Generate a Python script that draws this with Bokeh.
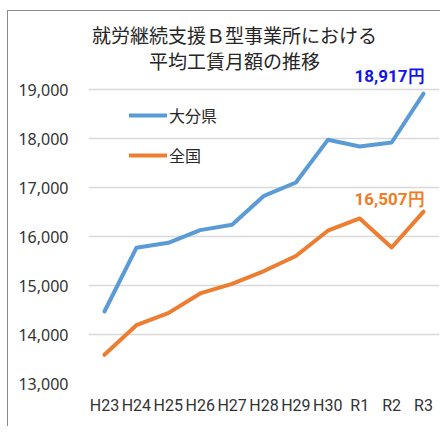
from bokeh.plotting import figure
from bokeh.models import Range1d, FixedTicker, NumeralTickFormatter, Label, Legend, LegendItem
from bokeh.core.properties import value
from bokeh.embed import file_html
from bokeh.resources import INLINE

# ---- data ----
years = ["H23", "H24", "H25", "H26", "H27", "H28", "H29", "H30", "R1", "R2", "R3"]
oita = [14469, 15769, 15871, 16130, 16239, 16831, 17102, 17973, 17837, 17918, 18917]
national = [13586, 14190, 14437, 14838, 15033, 15295, 15603, 16118, 16369, 15776, 16507]
y_ticks = [13000, 14000, 15000, 16000, 17000, 18000, 19000]
series_names = ["大分県", "全国"]
title_lines = ["就労継続支援Ｂ型事業所における", "平均工賃月額の推移"]

BLUE = "#5B9BD5"
ORANGE = "#ED7D31"
JP = "Noto Sans CJK JP"

p = figure(
    x_range=years,
    y_range=Range1d(13000, 13000 + 372 / 49 * 1000),
    width=433, height=416,
    output_backend="svg", toolbar_location=None,
    min_border_left=80, min_border_right=2, min_border_top=0, min_border_bottom=44,
)
p.styles = {"border-left": "1px solid #8a8a8a", "border-top": "1px solid #8a8a8a",
            "margin-top": "10px", "margin-left": "7px"}
p.outline_line_color = None
p.background_fill_color = "white"
p.border_fill_color = "white"

# axes
p.yaxis.ticker = FixedTicker(ticks=y_ticks)
p.yaxis.formatter = NumeralTickFormatter(format="0,0")
p.yaxis.axis_line_color = None
p.yaxis.major_tick_line_color = None
p.yaxis.minor_tick_line_color = None
p.yaxis.major_tick_in = 0
p.yaxis.major_tick_out = 0
p.yaxis.major_label_standoff = 20
p.yaxis.major_label_text_font = "Noto Sans"
p.yaxis.major_label_text_font_size = "16px"
p.yaxis.major_label_text_color = "#333333"

p.xaxis.axis_line_color = None
p.xaxis.major_tick_line_color = None
p.xaxis.major_tick_in = 0
p.xaxis.major_tick_out = 0
p.xaxis.major_label_standoff = 12
p.xaxis.major_label_text_font = "Roboto"
p.xaxis.major_label_text_font_size = "16px"
p.xaxis.major_label_text_color = "#333333"

p.xgrid.grid_line_color = None
p.ygrid.ticker = FixedTicker(ticks=y_ticks)
p.ygrid.grid_line_color = "#d9d9d9"
p.ygrid.grid_line_width = 1.5

# lines
r1 = p.line(years, oita, line_color=BLUE, line_width=4, line_join="round", line_cap="round")
r2 = p.line(years, national, line_color=ORANGE, line_width=4, line_join="round", line_cap="round")

legend = Legend(
    items=[LegendItem(label=series_names[0], renderers=[r1]),
           LegendItem(label=series_names[1], renderers=[r2])],
    location=(41, 216), orientation="vertical",
    padding=0, margin=0, spacing=16,
    glyph_width=38, glyph_height=20, label_height=20, label_standoff=2,
    label_text_font=JP, label_text_font_size="16px", label_text_color="#262626",
    border_line_color=None, background_fill_alpha=0,
)
p.add_layout(legend, "center")

# end labels
p.text(x=[years[-1]], y=[oita[-1]], text=[f"{oita[-1]:,}円"], y_offset=-18,
       text_align="right", text_baseline="middle", x_offset=1,
       text_font=value("Roboto"), text_font_style="bold",
       text_font_size="17px", text_color="#1414EE")
p.text(x=[years[-1]], y=[national[-1]], text=[f"{national[-1]:,}円"], y_offset=-13,
       text_align="right", text_baseline="middle", x_offset=1,
       text_font=value("Roboto"), text_font_style="bold",
       text_font_size="17px", text_color="#F37B23")

# title
for txt, yy in zip(title_lines, [20122, 19602]):
    p.add_layout(Label(x=4.576, y=yy, text=txt, text_align="center", text_baseline="middle",
                       text_font=JP, text_font_size="19px", text_color="#262626"))

open("out.html", "w").write(file_html(p, INLINE))
